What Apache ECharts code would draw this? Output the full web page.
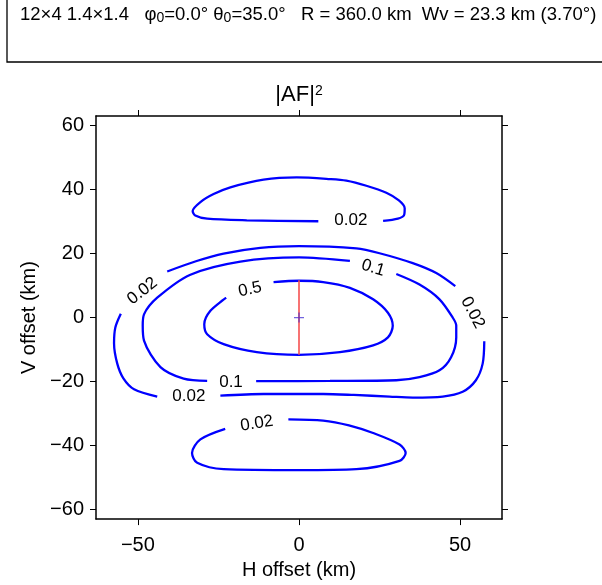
<!DOCTYPE html>
<html>
<head>
<meta charset="utf-8">
<script src="https://cdn.jsdelivr.net/npm/echarts@6/dist/echarts.min.js"></script>
<style>
  html, body { margin: 0; padding: 0; background: #fff; }
  #chart { width: 602px; height: 585px; }
</style>
</head>
<body>
<div id="chart"></div>
<script>
// Contour levels of |AF|^2 and axis ticks
const levels = [0.02, 0.1, 0.5];
const xTicks = [-50, 0, 50];
const yTicks = [-60, -40, -20, 0, 20, 40, 60];

// Array / geometry summary
const rangeKm = 360.0;
const beamWidthV = 23.3;   // km
const beamWidthDeg = '3.70';
const beamCenter = [0, 0];

// Contour runs in km (H offset, V offset); each run stops where a label sits
const upperLobe002 = [[6.0, 30.1], [-16.2, 30.4], [-28.5, 30.9], [-32.2, 31.9], [-33.0, 33.3], [-30.6, 36.1],
  [-26.5, 38.6], [-21.3, 40.7], [-11.0, 43.1], [-0.7, 43.8], [9.6, 43.3], [14.7, 42.8], [20.9, 41.2],
  [27.1, 39.0], [31.0, 36.6], [32.8, 34.2], [32.6, 32.0], [30.7, 30.9], [26.1, 30.2]];
const lowerLobe002 = [[-3.3, -31.8], [7.5, -32.2], [15.5, -33.7], [23.0, -36.1], [31.2, -39.7], [33.1, -42.3],
  [31.2, -44.8], [17.8, -47.4], [0, -47.7], [-23.4, -47.4], [-31.6, -45.4], [-33.2, -42.3], [-30.6, -38.1],
  [-22.9, -34.8]];
const outer002Top = [[-40.9, 14.4], [-32.0, 17.6], [-23.4, 20.0], [-12.0, 21.8], [0, 22.3], [17.8, 21.6],
  [25.0, 20.1], [35.3, 17.0], [42.6, 13.9], [48.5, 9.8]];
const outer002Right = [[57.5, -7.4], [57.0, -14.4], [54.9, -19.6], [50.8, -23.2], [44.6, -24.7], [35.3, -25.0],
  [28.1, -24.7], [17.0, -24.2], [7.5, -23.9], [-11.0, -23.9], [-24.4, -24.4]];
const outer002Left = [[-44.0, -24.7], [-51.2, -22.4], [-54.5, -19.0], [-56.4, -14.4], [-57.4, -8.0],
  [-57.0, -3.1], [-55.3, 1.2]];
const level01Right = [[30.2, 13.6], [37.4, 10.3], [43.6, 5.7], [47.7, 0], [48.8, -2.5], [48.8, -6.2],
  [47.2, -12.4], [43.6, -16.5], [37.4, -18.6], [30.2, -19.6], [9.6, -19.8], [-13.3, -19.9]];
const level01Left = [[-28.5, -19.8], [-35.8, -19.1], [-43.0, -15.5], [-48.1, -7.2], [-48.5, -2.5],
  [-48.1, 1.0], [-44.0, 6.2], [-33.7, 13.4], [-18.2, 17.5], [0, 18.8], [15.8, 17.7]];
const level05 = [[-7.9, 11.1], [0, 11.5], [7.5, 11.1], [15.8, 9.3], [23.0, 5.7], [27.6, 1.5], [29.1, -2.6],
  [27.6, -6.2], [23.0, -8.7], [12.7, -10.8], [0, -11.65], [-13.1, -10.8], [-23.4, -8.3], [-28.5, -5.2],
  [-29.4, -2.1], [-27.5, 2.1], [-22.6, 6.2]];

const contourRuns = [upperLobe002, lowerLobe002, outer002Top, outer002Right, outer002Left,
  level01Right, level01Left, level05];

// Inline contour labels: level index, anchor (km), text angle
const labelLevel = [0, 0, 0, 0, 0, 1, 1, 2];
const labelAt = [[16.1, 30.3], [-13.1, -33.1], [-48.6, 8.3], [53.9, 1.5], [-34.2, -24.7],
  [23.0, 15.5], [-21.1, -20.1], [-15.2, 8.8]];
const labelAngle = [0, 9, 38, -62, 0, -17, 0, 12];

const FONT = "'Liberation Sans', Arial, Helvetica, sans-serif";
const minus = v => String(v).replace('-', '\u2212');

const chart = echarts.init(document.getElementById('chart'), null, { renderer: 'canvas' });

const series = [];
contourRuns.forEach(run => {
  series.push({
    type: 'line', data: run, smooth: 0.3, showSymbol: false, silent: true,
    lineStyle: { color: '#0000ff', width: 2.3 }, z: 2
  });
});
series.push({
  type: 'scatter', symbolSize: 1, itemStyle: { color: 'rgba(255,255,255,0)' }, silent: true, z: 3,
  data: labelAt.map((p, i) => ({
    value: [p[0], p[1], levels[labelLevel[i]]],
    label: { rotate: labelAngle[i] }
  })),
  label: {
    show: true, position: 'inside', color: '#000', fontFamily: FONT, fontSize: 17,
    textBorderWidth: 0, opacity: 1,
    formatter: p => String(p.value[2])
  }
});
// vertical beam width through the beam centre
series.push({
  type: 'line', showSymbol: false, silent: true, z: 4,
  data: [[beamCenter[0], beamCenter[1] - beamWidthV / 2], [beamCenter[0], beamCenter[1] + beamWidthV / 2]],
  lineStyle: { color: 'rgba(245,80,80,0.8)', width: 2 }
});
series.push({
  type: 'scatter', silent: true, z: 5, data: [beamCenter],
  symbol: 'path://M0,-1 L0,1 M-1,0 L1,0', symbolSize: 10,
  itemStyle: { color: 'none', borderColor: 'rgba(60,40,210,0.9)', borderWidth: 1.3 }
});

const axisLineStyle = { onZero: false, lineStyle: { color: '#000', width: 1.5 } };
const tickStyle = { lineStyle: { color: '#000', width: 1 }, length: 6 };

chart.setOption({
  animation: false,
  backgroundColor: '#fff',
  grid: { left: 96, top: 116, right: 100, bottom: 62 },
  xAxis: [{
    type: 'value', min: -63, max: 63, position: 'bottom',
    name: 'H offset (km)', nameLocation: 'middle', nameGap: 40,
    nameTextStyle: { color: '#000', fontFamily: FONT, fontSize: 20 },
    axisLine: axisLineStyle, axisTick: Object.assign({ customValues: xTicks }, tickStyle),
    axisLabel: { customValues: xTicks, color: '#000', fontFamily: FONT, fontSize: 20, margin: 16, formatter: minus },
    splitLine: { show: false }
  }, {
    type: 'value', min: -63, max: 63, position: 'top',
    axisLine: axisLineStyle, axisTick: Object.assign({ customValues: xTicks }, tickStyle),
    axisLabel: { show: false }, splitLine: { show: false }
  }],
  yAxis: [{
    type: 'value', min: -63, max: 63, position: 'left',
    name: 'V offset (km)', nameLocation: 'middle', nameGap: 56, nameRotate: 90,
    nameTextStyle: { color: '#000', fontFamily: FONT, fontSize: 20 },
    axisLine: axisLineStyle, axisTick: Object.assign({ customValues: yTicks }, tickStyle),
    axisLabel: { customValues: yTicks, color: '#000', fontFamily: FONT, fontSize: 20, margin: 12, formatter: minus },
    splitLine: { show: false }
  }, {
    type: 'value', min: -63, max: 63, position: 'right',
    axisLine: axisLineStyle, axisTick: Object.assign({ customValues: yTicks }, tickStyle),
    axisLabel: { show: false }, splitLine: { show: false }
  }],
  graphic: [
    {
      type: 'rect', silent: true,
      shape: { x: 7, y: -5, width: 700, height: 67 },
      style: { fill: 'none', stroke: '#000', lineWidth: 1.3 }
    },
    {
      type: 'text', silent: true, x: 20, y: 5,
      style: {
        text: '{a|12\u00d74 1.4\u00d71.4   \u03c6}{s|0}{a|=0.0\u00b0 \u03b8}{s|0}{a|=35.0\u00b0   R = ' + rangeKm.toFixed(1) +
          ' km  Wv = ' + beamWidthV.toFixed(1) + ' km (' + beamWidthDeg + '\u00b0)}',
        verticalAlign: 'top',
        rich: {
          a: { fontFamily: FONT, fontSize: 18.5, color: '#000', verticalAlign: 'middle', lineHeight: 20 },
          s: { fontFamily: FONT, fontSize: 14, color: '#000', verticalAlign: 'bottom', lineHeight: 14, padding: [20, 0, 0, 0] }
        }
      }
    },
    {
      type: 'text', silent: true, x: 299, y: 84,
      style: {
        text: '{a||AF|}{b|2}', align: 'center', verticalAlign: 'top',
        rich: {
          a: { fontFamily: FONT, fontSize: 22, color: '#000', verticalAlign: 'middle', lineHeight: 22 },
          b: { fontFamily: FONT, fontSize: 14, color: '#000', verticalAlign: 'top', lineHeight: 14, padding: [0, 0, 14, 0] }
        }
      }
    }
  ],
  series: series
});
</script>
</body>
</html>
